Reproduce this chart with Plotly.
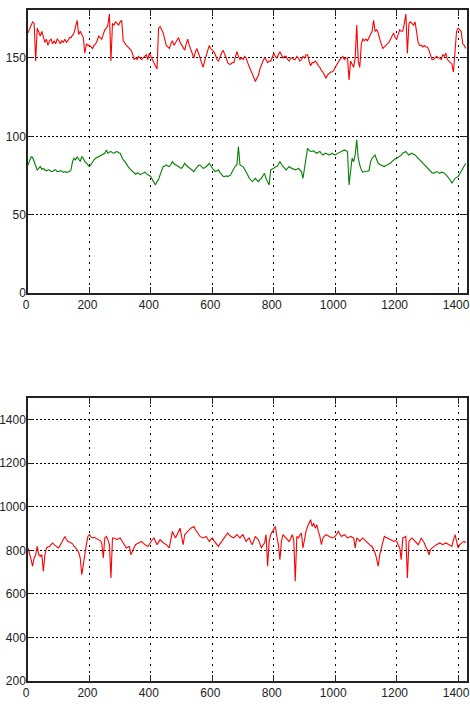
import numpy as np
import plotly.graph_objects as go

# ---- data (sampled every 5 units along x) ----
top_red = [
    166,168,170,173,172,148,169,166,164,167,163,160,162,158,161,162,159,161,159,162,
    161,159,161,160,162,160,161,163,163,165,166,170,174,165,167,165,163,153,159,158,
    158,157,156,158,159,161,164,163,162,165,168,169,171,178,148,172,171,173,172,171,
    173,174,161,159,158,157,156,155,153,149,150,149,151,150,149,150,151,152,149,153,
    151,149,147,145,143,169,170,168,166,162,158,157,156,159,161,158,160,162,163,160,
    158,157,155,159,162,158,155,152,150,154,156,153,150,146,144,148,152,156,158,156,
    155,154,152,149,148,151,153,155,153,150,147,146,146,147,147,150,154,151,149,150,
    149,151,150,147,144,142,140,138,135,137,139,143,146,148,150,149,147,148,148,151,
    153,151,150,152,154,152,150,151,151,149,148,150,150,149,149,151,150,148,149,151,
    150,152,152,148,145,147,147,148,147,145,144,142,141,139,137,139,140,141,141,142,
    144,146,147,149,150,151,149,150,150,136,148,146,144,150,171,148,144,159,162,161,
    162,161,163,165,167,174,167,168,166,162,158,156,157,158,159,160,162,164,166,163,
    162,165,168,167,167,172,178,153,172,173,172,171,173,167,160,158,158,157,158,157,
    157,155,152,149,149,150,151,150,150,149,152,151,153,149,148,147,146,141,153,167,
    169,168,167,159,158,156,
]

top_green = [
    81.7,85,87,86.5,84,81,78.5,79.5,80.7,79,79.5,78.5,78,78.5,78.6,77.5,77.5,78.5,78.6,77.5,
    77.5,78,77.9,77,77.5,77,77.1,77.5,78.6,83.9,86,85,87,85,83.9,87.1,86,84,82.8,81.5,
    80.7,82,83.9,85,86,86.5,87.1,87.5,88.1,88.5,89.2,91.3,89.2,90,90.3,89.5,89.2,90,90.3,89.5,
    89.2,87,84.9,84,82.8,81,79.6,78.5,77.5,76.5,75.8,76.5,76.4,75.5,75.8,76.5,77.1,76,75.4,75,
    74.3,72.2,70.5,69,71.1,72.5,75.4,78,80.7,81,81.7,81,80.7,82,83.9,82.5,81.7,81,80.7,80,
    79.6,81,82.8,81.5,80.7,79.5,78.6,78,77.5,79,80.7,81.5,81.7,80.5,79.6,80,80.7,81.5,82.8,81,
    79.6,78.5,77.5,78,78.6,77,75.4,74.5,74.3,74.8,74.3,74.8,75.4,77.5,79.6,81,81.7,93.4,81.7,81,
    80.7,79,77.5,75.5,73.2,72,71.1,72,73.2,72,71.1,72.5,73.2,75,76.4,73,71.1,69,78.6,79,
    79.6,80.5,80.7,82,83.9,82,80.7,79.5,78.6,79.5,80.7,80,79.6,79,78.6,79,79.6,78.5,77.5,73.2,
    79.6,83.9,92.4,91,90.3,90.5,90.7,89.8,89.2,89.8,90.3,89,88.1,88.8,89.2,88.5,88.1,88.5,89.2,88.5,
    88.1,88.8,89.2,89.8,90.3,90.8,91.3,90.8,90.3,69,79.6,86,83.9,88.1,97.7,86,81.7,78.6,77.1,77.5,
    77.5,77.9,77.9,83.9,86,87,88.1,85,82.8,82,81.7,81,80.7,81.5,81.7,82.5,82.8,84,84.9,85.5,
    86,86.5,87.1,88,89.2,89.8,90.3,89,88.1,88.7,89.2,88.5,88.1,87,86,85,83.9,82.8,81.7,80.5,
    79.6,78.5,77.5,76.8,76.4,77,77.5,77,76.4,77,77.1,76.5,75.8,74.5,73.2,72,70,71.5,73.2,73.8,
    74.3,76,77.5,79,80.7,82.8,
]

bottom_red = [
    811,788,757,727,765,780,818,780,772,780,704,780,811,815,818,826,834,826,818,815,
    811,826,841,852,864,850,841,838,834,830,818,812,803,790,765,688,742,788,826,864,
    872,862,857,860,857,852,849,845,834,765,857,864,849,826,673,857,857,852,849,855,
    857,845,834,820,811,815,818,780,795,815,826,830,834,838,841,833,826,822,818,830,
    841,850,857,840,826,838,849,842,834,830,826,818,811,849,887,870,857,872,887,902,
    864,826,872,880,887,895,902,906,910,895,887,875,864,860,857,860,864,852,841,850,
    857,845,834,826,818,830,841,852,864,872,880,870,864,860,857,865,872,864,857,866,
    872,855,841,850,857,840,826,845,864,855,849,830,811,825,834,872,727,841,872,885,
    895,910,864,826,757,841,872,865,857,850,841,855,872,849,658,864,857,870,880,811,
    857,887,910,925,941,910,925,902,918,887,864,826,857,865,872,868,864,860,857,860,
    864,875,887,875,864,868,872,865,857,860,864,860,857,811,857,850,841,850,857,849,
    841,834,826,822,818,805,788,760,727,780,811,840,864,860,857,852,849,845,841,845,
    841,825,811,757,857,860,864,673,841,850,857,849,841,835,826,840,857,845,834,815,
    803,780,803,810,818,822,826,830,834,830,826,830,834,830,826,822,818,849,872,841,
    811,825,834,838,841,834,
]

step = 5
x_top_red = step * np.arange(len(top_red))
x_top_green = step * np.arange(len(top_green))
x_bottom = step * np.arange(len(bottom_red))

x_ticks = [0, 200, 400, 600, 800, 1000, 1200, 1400]
top_y_ticks = [0, 50, 100, 150]
bottom_y_ticks = [200, 400, 600, 800, 1000, 1200, 1400]

FONT = "Liberation Sans, Arial, sans-serif"

fig = go.Figure()
fig.add_trace(go.Scatter(x=x_top_red, y=top_red, mode="lines",
                         line=dict(color="#ff0000", width=1.1), xaxis="x", yaxis="y"))
fig.add_trace(go.Scatter(x=x_top_green, y=top_green, mode="lines",
                         line=dict(color="#008000", width=1.1), xaxis="x", yaxis="y"))
fig.add_trace(go.Scatter(x=x_bottom, y=bottom_red, mode="lines",
                         line=dict(color="#ff0000", width=1.1), xaxis="x2", yaxis="y2"))

axis_common = dict(
    showline=True, linecolor="#222222", linewidth=1.5, mirror="allticks",
    ticks="inside", tickcolor="#222222", tickwidth=1,
    showgrid=True, gridcolor="#000000", gridwidth=1,
    zeroline=False, automargin=False, ticklabeloverflow="allow",
    tickfont=dict(family=FONT, size=12, color="#222222"),
)
xaxis_style = dict(axis_common, ticklen=6, griddash="2px,5px", ticklabelshift=-2)
yaxis_style = dict(axis_common, ticklen=5, griddash="1.5px,2.5px", ticklabelstandoff=-2)

fig.update_layout(
    width=470, height=707,
    margin=dict(l=28, r=3, t=10, b=26),
    paper_bgcolor="white", plot_bgcolor="white",
    showlegend=False, hovermode=False,
    xaxis=dict(domain=[0, 1], anchor="y", range=[0, 1429],
               tickvals=x_ticks, **xaxis_style),
    yaxis=dict(domain=[0.5782, 1], anchor="x", range=[0, 180.6],
               tickvals=top_y_ticks, **yaxis_style),
    xaxis2=dict(domain=[0, 1], anchor="y2", range=[0, 1429],
                tickvals=x_ticks, **xaxis_style),
    yaxis2=dict(domain=[0, 0.4218], anchor="x2", range=[200, 1500],
                tickvals=bottom_y_ticks, **yaxis_style),
)

fig.write_html(
    "out.html",
    config={"displayModeBar": False},
    post_script="document.body.style.margin='0px';document.body.style.overflow='hidden';",
)
